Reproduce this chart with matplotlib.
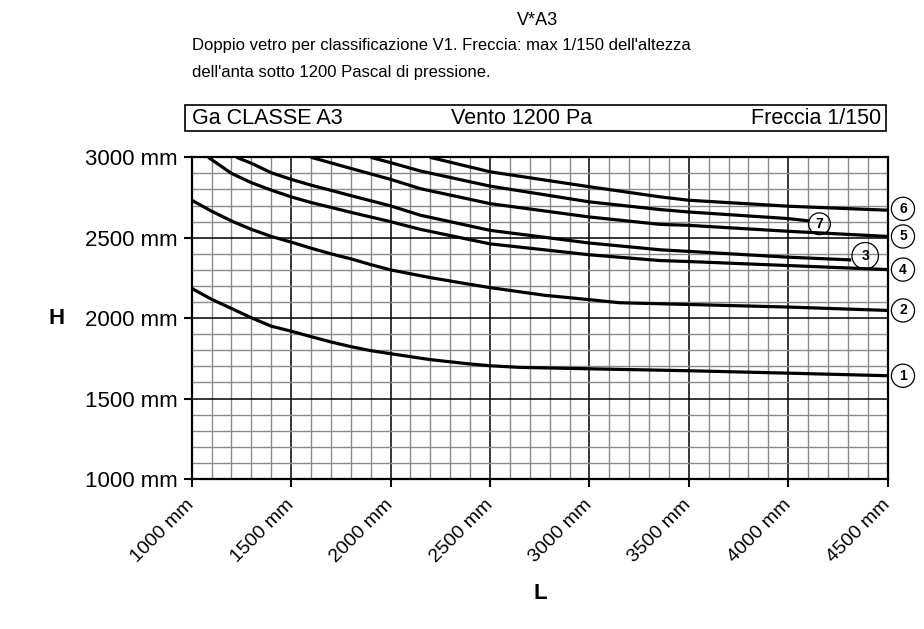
import matplotlib
matplotlib.use('Agg')
import matplotlib.pyplot as plt
from matplotlib.ticker import MultipleLocator
from matplotlib.patches import Rectangle

plt.rcParams['font.family'] = ['Liberation Sans', 'DejaVu Sans']

# ---- data (L in mm, H in mm) ----
L1 = [1000, 1100, 1200, 1300, 1400, 1500, 1600, 1700, 1800, 1900, 2000, 2200, 2400, 2500, 2650, 3000, 3500, 4000, 4500]
H1 = [2185, 2117, 2060, 2002, 1950, 1919, 1885, 1852, 1823, 1798, 1779, 1742, 1715, 1704, 1694, 1685, 1673, 1658, 1642]

L2 = [1000, 1100, 1200, 1300, 1400, 1500, 1600, 1700, 1800, 1900, 2000, 2200, 2400, 2500, 2775, 3000, 3150, 3500, 4000, 4500]
H2 = [2733, 2665, 2604, 2552, 2508, 2473, 2435, 2400, 2369, 2333, 2300, 2252, 2210, 2190, 2142, 2115, 2096, 2085, 2069, 2048]

L3 = [1225, 1300, 1400, 1500, 1600, 1800, 2000, 2150, 2500, 3000, 3356, 3500, 4000, 4317]
H3 = [3000, 2963, 2904, 2863, 2827, 2762, 2698, 2640, 2546, 2467, 2425, 2415, 2379, 2362]

L4 = [1083, 1200, 1300, 1400, 1500, 1600, 1800, 2000, 2150, 2500, 3000, 3356, 3500, 4000, 4500]
H4 = [3000, 2900, 2842, 2796, 2754, 2719, 2658, 2600, 2552, 2462, 2394, 2358, 2352, 2327, 2302]

L5 = [1600, 1800, 2000, 2150, 2500, 3000, 3356, 3500, 4000, 4500]
H5 = [3000, 2931, 2863, 2805, 2712, 2629, 2583, 2577, 2540, 2508]

L6 = [2198, 2500, 3000, 3356, 3500, 4000, 4500]
H6 = [3000, 2910, 2817, 2754, 2733, 2696, 2671]

L7 = [1900, 2000, 2150, 2500, 3000, 3356, 3500, 4000, 4108]
H7 = [3000, 2967, 2915, 2821, 2723, 2675, 2660, 2619, 2604]

curve_names = ['1', '2', '3', '4', '5', '6', '7']
curve_L = [L1, L2, L3, L4, L5, L6, L7]
curve_H = [H1, H2, H3, H4, H5, H6, H7]

x_ticks = [1000, 1500, 2000, 2500, 3000, 3500, 4000, 4500]
y_ticks = [1000, 1500, 2000, 2500, 3000]
x_tick_labels = [f"{v} mm" for v in x_ticks]
y_tick_labels = [f"{v} mm" for v in y_ticks]

title = "V*A3"
subtitle = ["Doppio vetro per classificazione V1. Freccia: max 1/150 dell'altezza",
            "dell'anta sotto 1200 Pascal di pressione."]
header = ["Ga CLASSE A3", "Vento 1200 Pa", "Freccia 1/150"]

# ---- figure ----
fig = plt.figure(figsize=(9.24, 6.29), dpi=100)
ax = fig.add_axes([0.2075, 0.2385, 0.7532, 0.5114])

ax.set_xlim(1000, 4500)
ax.set_ylim(1000, 3000)
ax.xaxis.set_minor_locator(MultipleLocator(100))
ax.yaxis.set_minor_locator(MultipleLocator(100))
ax.set_xticks(x_ticks)
ax.set_yticks(y_ticks)
ax.set_xticklabels(x_tick_labels, rotation=45, ha='right', va='center',
                   rotation_mode='anchor', fontsize=14)
ax.set_yticklabels(y_tick_labels, fontsize=16)
ax.tick_params(axis='both', which='major', direction='out', length=6, width=1.5, color='black', pad=4)
ax.tick_params(axis='x', which='major', pad=11)
ax.tick_params(axis='both', which='minor', length=0)

ax.grid(which='minor', color='#8a8a8a', linewidth=1.0)
ax.grid(which='major', color='black', linewidth=1.1)
ax.set_axisbelow(True)
for s in ax.spines.values():
    s.set_linewidth(1.6)
    s.set_color('black')

for L, H in zip(curve_L, curve_H):
    ax.plot(L, H, color='black', linewidth=2.3, solid_capstyle='butt',
            solid_joinstyle='round', zorder=3)

# circled labels: offset (points), pad
label_style = {
    '1': ((11, 0), 0.33),
    '2': ((11, 0), 0.33),
    '4': ((11, 0), 0.33),
    '5': ((11, 0), 0.33),
    '6': ((11, 1), 0.33),
    '7': ((7, -2), 0.28),
    '3': ((10, 3), 0.45),
}
for name, L, H in zip(curve_names, curve_L, curve_H):
    off, pad = label_style[name]
    ax.annotate(name, xy=(L[-1], H[-1]), xytext=off, textcoords='offset points',
                ha='center', va='center', fontsize=10, fontweight='bold',
                bbox=dict(boxstyle=f'circle,pad={pad}', fc='none', ec='black', lw=0.9),
                annotation_clip=False, zorder=4)

# titles
fig.text(0.5812, 0.968, title, ha='center', va='center', fontsize=13)
fig.text(0.2078, 0.9269, subtitle[0], ha='left', va='center', fontsize=12)
fig.text(0.2078, 0.884, subtitle[1], ha='left', va='center', fontsize=12)

# header box
fig.patches.append(Rectangle((0.2002, 0.7917), 0.9589 - 0.2002, 0.8331 - 0.7917,
                             transform=fig.transFigure, fill=False, ec='black', lw=1.2))
fig.text(0.2078, 0.8124, header[0], ha='left', va='center', fontsize=15.5)
fig.text(0.565, 0.8124, header[1], ha='center', va='center', fontsize=15.5)
fig.text(0.9535, 0.8124, header[2], ha='right', va='center', fontsize=15.5)

fig.text(0.0617, 0.4944, "H", ha='center', va='center', fontsize=16, fontweight='bold')
fig.text(0.5844, 0.0572, "L", ha='center', va='center', fontsize=16, fontweight='bold')

fig.savefig('out.png', dpi=100)
